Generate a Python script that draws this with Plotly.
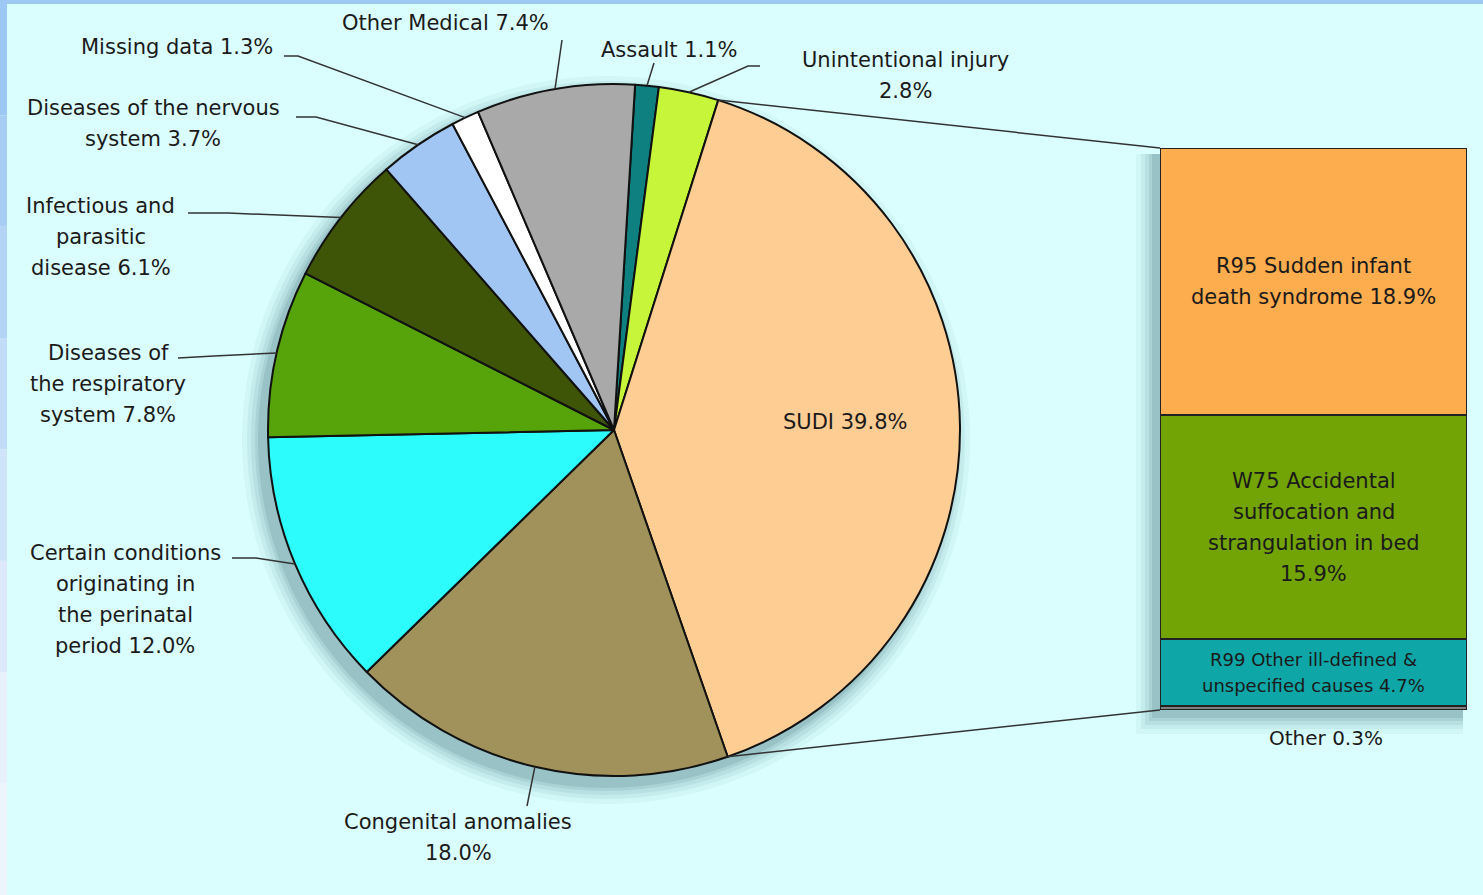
import math
import plotly.graph_objects as go

W, H = 1483, 895

# pie slices, clockwise from the top
pie_labels = ["Assault", "Unintentional injury", "SUDI", "Congenital anomalies",
              "Certain conditions originating in the perinatal period",
              "Diseases of the respiratory system", "Infectious and parasitic disease",
              "Diseases of the nervous system", "Missing data", "Other Medical"]
pie_values = [1.1, 2.8, 39.8, 18.0, 12.0, 7.8, 6.1, 3.7, 1.3, 7.4]
pie_colors = ["#0f8080", "#c6f53a", "#fecd94", "#a0925a", "#2dfcfc",
              "#56a30a", "#3e5508", "#a2c6f4", "#ffffff", "#a9a9a9"]

# SUDI breakdown, bottom to top
bar_labels = ["Other", "R99 Other ill-defined & unspecified causes",
              "W75 Accidental suffocation and strangulation in bed",
              "R95 Sudden infant death syndrome"]
bar_values = [0.3, 4.7, 15.9, 18.9]
bar_colors = ["#808080", "#0ea6a6", "#72a405", "#fdac4e"]
bar_text = [["Other 0.3%"],
            ["R99 Other ill-defined &", "unspecified causes 4.7%"],
            ["W75 Accidental", "suffocation and", "strangulation in bed", "15.9%"],
            ["R95 Sudden infant", "death syndrome 18.9%"]]

# outside labels: lines of text per slice
pie_text = [["Assault 1.1%"],
            ["Unintentional injury", "2.8%"],
            ["SUDI 39.8%"],
            ["Congenital anomalies", "18.0%"],
            ["Certain conditions", "originating in", "the perinatal", "period 12.0%"],
            ["Diseases of", "the respiratory", "system 7.8%"],
            ["Infectious and", "parasitic", "disease 6.1%"],
            ["Diseases of the nervous", "system 3.7%"],
            ["Missing data 1.3%"],
            ["Other Medical 7.4%"]]

FONT = "DejaVu Sans"
TXT = "#1a1a1a"
LINE = "#333333"

# layout of the pie (pixels)
CX, CY, R = 614, 430, 346
ROT = 3.5
BX0, BX1, BY0, BY1 = 1160, 1467, 148, 710


def px(x):
    return x / W


def py(y):
    return 1 - y / H


def edge(angle):
    a = math.radians(angle)
    return CX + R * math.sin(a), CY - R * math.cos(a)


total = sum(pie_values)
starts, cum = [], 0.0
for v in pie_values:
    starts.append(ROT + cum / total * 360)
    cum += v
ends = [s + v / total * 360 for s, v in zip(starts, pie_values)]
mids = [(s + e) / 2 for s, e in zip(starts, ends)]

fig = go.Figure()

fig.add_trace(go.Pie(
    labels=pie_labels, values=pie_values, sort=False, direction="clockwise",
    rotation=ROT, textinfo="none", showlegend=False,
    marker=dict(colors=pie_colors, line=dict(color="#111111", width=2)),
    domain=dict(x=[px(CX - R), px(CX + R)], y=[py(CY + R), py(CY - R)]),
))

for v, c, name in zip(bar_values, bar_colors, bar_labels):
    fig.add_trace(go.Bar(
        x=[0], y=[v], name=name, width=1, showlegend=False,
        marker=dict(color=c, line=dict(color="#222222", width=2)),
    ))

shapes = []
# frame
shapes.append(dict(type="rect", xref="paper", yref="paper", x0=0, x1=1,
                   y0=py(4), y1=1, fillcolor="#9ec8f4", line_width=0, layer="below"))
strip = ["#9ec8f4", "#a8cdf5", "#b4d4f6", "#c2dcf7", "#d0e4f9", "#dde9fa", "#e8f0fb", "#eef4fc"]
for i, c in enumerate(strip):
    shapes.append(dict(type="rect", xref="paper", yref="paper", x0=0, x1=px(7),
                       y0=py(4 + (i + 1) * (H - 4) / len(strip)),
                       y1=py(4 + i * (H - 4) / len(strip)),
                       fillcolor=c, line_width=0, layer="below"))

# soft shadows, towards the lower left
for k, op in [(18, 0.05), (13, 0.06), (9, 0.08), (5, 0.1), (2, 0.13)]:
    shapes.append(dict(type="circle", xref="paper", yref="paper",
                       x0=px(CX - R - k - 8), x1=px(CX + R + k - 8),
                       y0=py(CY + R + k + 10), y1=py(CY - R - k + 10),
                       fillcolor="#2a5a62", opacity=op, line_width=0, layer="below"))
    shapes.append(dict(type="rect", xref="paper", yref="paper",
                       x0=px(BX0 - k - 6), x1=px(BX1 - 4),
                       y0=py(BY1 + k + 6), y1=py(BY0 + 6),
                       fillcolor="#2a5a62", opacity=op, line_width=0, layer="below"))

# connectors from SUDI slice to the bar
sudi = pie_labels.index("SUDI")
for ang, by in [(starts[sudi], BY0), (ends[sudi], BY1)]:
    ex, ey = edge(ang)
    shapes.append(dict(type="line", xref="paper", yref="paper",
                       x0=px(ex), y0=py(ey), x1=px(BX0), y1=py(by),
                       line=dict(color=LINE, width=1.5)))

# label placements: centre x, first line y, line step, leader elbow points (pixels)
label_pos = {
    "Assault": (669, 50, 31, [(654, 63)]),
    "Unintentional injury": (906, 60, 31, [(760, 66), (748, 66)]),
    "Congenital anomalies": (458, 822, 31, [(527, 806)]),
    "Certain conditions originating in the perinatal period": (125, 553, 31, [(232, 558), (256, 558)]),
    "Diseases of the respiratory system": (108, 353, 31, [(178, 358), (214, 356)]),
    "Infectious and parasitic disease": (101, 206, 31, [(188, 213), (228, 213)]),
    "Diseases of the nervous system": (153, 108, 31, [(296, 117), (316, 117)]),
    "Missing data": (177, 47, 31, [(284, 56), (298, 56)]),
    "Other Medical": (445, 23, 31, [(562, 40)]),
}

annotations = []
for i, name in enumerate(pie_labels):
    if name not in label_pos:
        continue
    x0, y0, step, pts = label_pos[name]
    for j, line in enumerate(pie_text[i]):
        annotations.append(dict(xref="paper", yref="paper", x=px(x0), y=py(y0 + j * step),
                                text=line, showarrow=False, xanchor="center", yanchor="middle",
                                font=dict(family=FONT, size=21, color=TXT)))
    ex, ey = edge(mids[i])
    path = "M " + " L ".join(f"{px(a)},{py(b)}" for a, b in pts + [(ex, ey)])
    shapes.append(dict(type="path", xref="paper", yref="paper", path=path,
                       line=dict(color=LINE, width=1.5)))

# SUDI label inside the slice
annotations.append(dict(xref="paper", yref="paper", x=px(845), y=py(422),
                        text=pie_text[sudi][0], showarrow=False,
                        font=dict(family=FONT, size=21, color=TXT)))

# bar segment labels
base = 0.0
for k, (v, lines) in enumerate(zip(bar_values, bar_text)):
    mid = base + v / 2
    base += v
    if k == 0:
        annotations.append(dict(xref="x", yref="y", x=0.04, y=0, yshift=-28,
                                text=lines[0], showarrow=False,
                                font=dict(family=FONT, size=20, color=TXT)))
        continue
    size, step = (18, 26) if k == 1 else (21, 31)
    n = len(lines)
    for j, line in enumerate(lines):
        annotations.append(dict(xref="x", yref="y", x=0, y=mid,
                                yshift=((n - 1) / 2 - j) * step,
                                text=line, showarrow=False,
                                font=dict(family=FONT, size=size, color=TXT)))

fig.update_layout(
    width=W, height=H, margin=dict(l=0, r=0, t=0, b=0),
    paper_bgcolor="#dafefe", plot_bgcolor="rgba(0,0,0,0)",
    barmode="stack", bargap=0,
    xaxis=dict(domain=[px(BX0), px(BX1)], range=[-0.5, 0.5], visible=False, fixedrange=True),
    yaxis=dict(domain=[py(BY1), py(BY0)], range=[0, sum(bar_values)], visible=False, fixedrange=True),
    shapes=shapes, annotations=annotations,
)

# drop the browser's default body margin so the figure sits at the window origin
fig.write_html("out.html", config={"displayModeBar": False},
               post_script="document.body.style.margin='0';document.body.style.overflow='hidden';")
